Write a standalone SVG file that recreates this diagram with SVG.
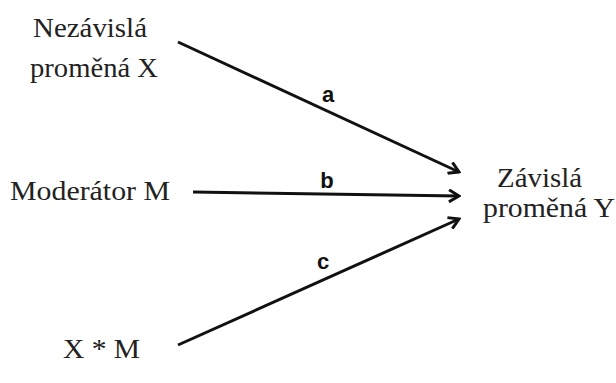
<svg xmlns="http://www.w3.org/2000/svg" width="616" height="383" viewBox="0 0 616 383">
<style>
.t{font-family:"Liberation Serif","Times New Roman",serif;font-size:27px;fill:#222}
.l{font-family:"Liberation Sans",Arial,sans-serif;font-size:22px;font-weight:bold;fill:#111;text-anchor:middle}
.c{stroke:#111;stroke-width:3;fill:none}
</style>
<defs>
<marker id="ah" viewBox="0 0 14 14" refX="12" refY="7" markerWidth="14" markerHeight="14" markerUnits="userSpaceOnUse" orient="auto">
<path d="M2,1 L12,7 L2,13" fill="none" stroke="#111" stroke-width="3"/>
</marker>
</defs>
<rect width="616" height="383" fill="#fff"/>
<g id="x"><text class="t" x="33" y="37" textLength="114" lengthAdjust="spacingAndGlyphs">Nezávislá</text><text class="t" x="30" y="77" textLength="128" lengthAdjust="spacingAndGlyphs">proměná X</text></g>
<g id="m"><text class="t" x="10" y="200" textLength="160" lengthAdjust="spacingAndGlyphs">Moderátor M</text></g>
<g id="xm"><text class="t" x="63" y="358" textLength="77" lengthAdjust="spacingAndGlyphs">X * M</text></g>
<g id="y"><text class="t" x="497" y="187" textLength="85" lengthAdjust="spacingAndGlyphs">Závislá</text><text class="t" x="483" y="217" textLength="132" lengthAdjust="spacingAndGlyphs">proměná Y</text></g>
<g id="connectors">
<line class="c" x1="178" y1="42" x2="459" y2="172" marker-end="url(#ah)"/>
<line class="c" x1="193" y1="192" x2="459" y2="196" marker-end="url(#ah)"/>
<line class="c" x1="178" y1="345" x2="459" y2="219" marker-end="url(#ah)"/>
<text class="l" x="328" y="102">a</text>
<text class="l" x="327" y="188">b</text>
<text class="l" x="323" y="269">c</text>
</g>
</svg>
